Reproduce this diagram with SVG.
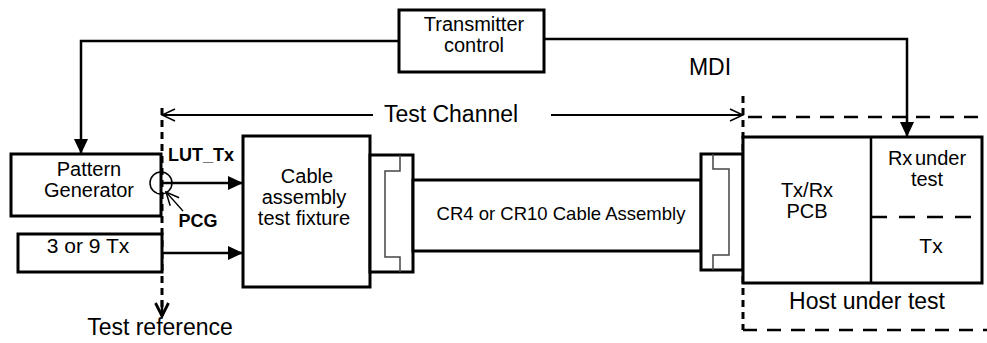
<svg xmlns="http://www.w3.org/2000/svg" width="987" height="343" viewBox="0 0 987 343">
<style>
  .box{fill:#fff;stroke:#000;stroke-width:3}
  .ln{fill:none;stroke:#000;stroke-width:2.5}
  .thin{fill:none;stroke:#000;stroke-width:1.8}
  .gray{fill:none;stroke:#444;stroke-width:1.5}
  .dash{fill:none;stroke:#000;stroke-width:2.5;stroke-dasharray:14,10}
  .dot{fill:none;stroke:#000;stroke-width:3;stroke-dasharray:7,5}
  text{font-family:"Liberation Sans",Arial,sans-serif;fill:#000;text-anchor:middle}
  .t21{font-size:21px}
  .t20{font-size:20px}
  .t23{font-size:23px}
  .t18{font-size:18.5px}
  .b{font-size:18px;font-weight:bold}
</style>
<defs>
  <marker id="fa" viewBox="0 0 15 14" refX="15" refY="7" markerWidth="15" markerHeight="14" markerUnits="userSpaceOnUse" orient="auto">
    <path d="M0,0 L15,7 L0,14 z" fill="#000"/>
  </marker>
  <marker id="oa" viewBox="-1 -1 15 14" refX="13" refY="6" markerWidth="15" markerHeight="14" markerUnits="userSpaceOnUse" orient="auto">
    <path d="M0,0 L13,6 L0,12" fill="none" stroke="#000" stroke-width="1.5"/>
  </marker>
  <marker id="ob" viewBox="-2 -2 17 17" refX="13" refY="6.5" markerWidth="17" markerHeight="17" markerUnits="userSpaceOnUse" orient="auto">
    <path d="M0,0 L13,6.5 L0,13" fill="none" stroke="#000" stroke-width="2.8"/>
  </marker>
</defs>

<g id="connectors">
  <path class="ln" d="M399,41 H81 V154" marker-end="url(#fa)"/>
  <path class="ln" d="M544,39 H907 V137" marker-end="url(#fa)"/>
  <line class="ln" x1="161" y1="183" x2="243" y2="183" marker-end="url(#fa)"/>
  <line class="ln" x1="162" y1="253" x2="243" y2="253" marker-end="url(#fa)"/>
  <line class="thin" x1="373" y1="115" x2="162" y2="115" marker-end="url(#oa)"/>
  <line class="thin" x1="551" y1="115" x2="743" y2="115" marker-end="url(#oa)"/>
  <line x1="183" y1="211" x2="166" y2="192" stroke="#000" stroke-width="1.3" marker-end="url(#oa)"/>
  <line class="dot" x1="162" y1="108" x2="162" y2="316"/>
  <line x1="162" y1="300" x2="162" y2="316" stroke="#000" stroke-width="2.5" marker-end="url(#ob)"/>
  <line class="dot" x1="743" y1="96" x2="743" y2="330"/>
  <line class="dash" x1="748" y1="117" x2="987" y2="117"/>
  <line class="dash" x1="743" y1="330" x2="987" y2="330"/>
</g>

<g id="transmitter-control">
  <rect class="box" x="399" y="10" width="145" height="62"/>
  <text class="t20" x="474" y="31">Transmitter</text>
  <text class="t20" x="474" y="52">control</text>
</g>

<g id="pattern-generator">
  <rect class="box" x="11" y="154" width="150" height="62"/>
  <text class="t20" x="89" y="176">Pattern</text>
  <text class="t20" x="89" y="197">Generator</text>
</g>

<g id="pcg">
  <circle cx="161" cy="183" r="11" fill="none" stroke="#000" stroke-width="1.5"/>
  <text class="b" x="201" y="161">LUT_Tx</text>
  <text class="b" x="198" y="227">PCG</text>
</g>

<g id="tx-3-9">
  <rect class="box" x="18" y="234" width="144" height="38"/>
  <text class="t21" x="88" y="253">3 or 9 Tx</text>
</g>

<g id="test-reference">
  <text class="t23" x="160" y="335">Test reference</text>
</g>

<g id="test-channel">
  <text class="t23" x="451" y="122">Test Channel</text>
</g>

<g id="mdi">
  <text class="t23" x="710" y="75">MDI</text>
</g>

<g id="fixture">
  <rect class="box" x="243" y="136" width="127" height="151"/>
  <text class="t20" x="307" y="183">Cable</text>
  <text class="t20" x="304" y="204">assembly</text>
  <text class="t20" x="304" y="225">test fixture</text>
</g>

<g id="left-connector">
  <rect class="box" x="370" y="155" width="43" height="117"/>
  <path class="gray" d="M400,155 V171 H385 V257 H400 V272"/>
</g>

<g id="cable">
  <rect class="box" x="413" y="180" width="288" height="71"/>
  <text class="t18" x="561" y="220">CR4 or CR10 Cable Assembly</text>
</g>

<g id="right-connector">
  <rect class="box" x="701" y="154" width="42" height="116"/>
  <path class="gray" d="M713,154 V169 H729 V255 H713 V270"/>
</g>

<g id="host-box">
  <rect class="box" x="743" y="137" width="239" height="146"/>
  <line class="ln" x1="871" y1="137" x2="871" y2="283"/>
  <line class="dash" x1="871" y1="217" x2="982" y2="217" style="stroke-dasharray:16,12"/>
  <text class="t20" x="807" y="197">Tx/Rx</text>
  <text class="t20" x="807" y="218">PCB</text>
  <text class="t20" x="927" y="165" style="word-spacing:-3px">Rx under</text>
  <text class="t20" x="927" y="186">test</text>
  <text class="t21" x="931" y="253">Tx</text>
</g>

<g id="host-under-test">
  <text class="t23" x="867" y="309">Host under test</text>
</g>
</svg>
